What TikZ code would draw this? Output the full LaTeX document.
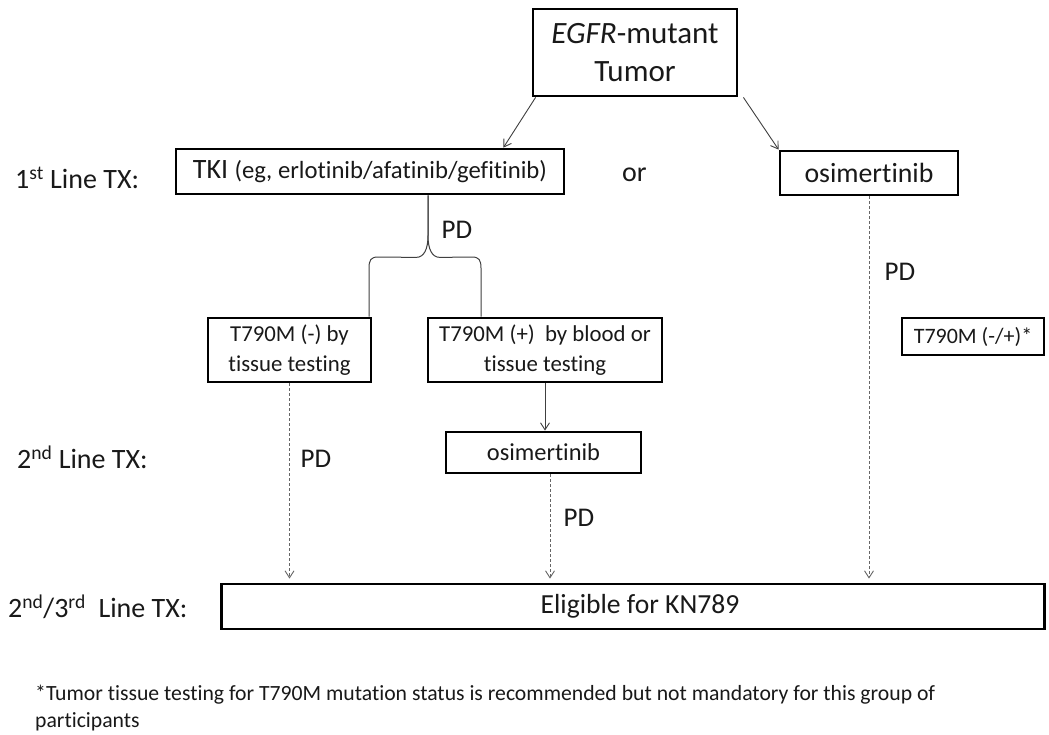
\documentclass[tikz,border=0pt]{standalone}
\usepackage{fontspec}
\setmainfont{Carlito}[RawFeature=-liga]
\usetikzlibrary{arrows.meta}
\newcommand{\fsz}[1]{\fontsize{#1}{#1}\selectfont}
\begin{document}
\begin{tikzpicture}[x=1pt,y=-1pt,
  boxnode/.style={draw=black,line width=2.8pt,inner sep=0pt,align=center,anchor=center,text=black!90},
  lbl/.style={inner sep=0pt,text=black!90},
  arr/.style={draw=black!75,line width=0.9pt,-{Straight Barb[length=7pt,width=9pt]}},
  darr/.style={draw=black!60,line width=0.9pt,dash pattern=on 3pt off 2pt,-{Straight Barb[length=7pt,width=9pt,line width=0.9pt]},shorten >=4pt},
  brace/.style={draw=black!75,line width=1pt}
]
\useasboundingbox (0,0) rectangle (1049,734);
\fill[white] (0,0) rectangle (1049,734);

% boxes
\node[boxnode,minimum width=204pt,minimum height=87pt,font=\fontsize{31}{38}\selectfont] (egfr) at (635,52.5)
  {\textit{EGFR}-mutant\\Tumor};
\node[boxnode,minimum width=388pt,minimum height=45pt] (tki) at (370,171.5)
  {\fsz{28}TKI \fsz{24.7}(eg, erlotinib/afatinib/gefitinib)};
\node[boxnode,minimum width=178pt,minimum height=44pt] (osimA) at (869,173)
  {\fsz{27.8}osimertinib};
\node[boxnode,minimum width=163pt,minimum height=64pt,font=\fontsize{22.8}{30}\selectfont] (tneg) at (289.5,350)
  {T790M (-) by\\tissue testing};
\node[boxnode,minimum width=234pt,minimum height=64pt,font=\fontsize{22.8}{30}\selectfont] (tpos) at (545,350)
  {T790M (+)\ \ by blood or\\tissue testing};
\node[boxnode,minimum width=195pt,minimum height=41pt] (osimB) at (543.5,452.5)
  {\fsz{24.4}osimertinib};
\node[boxnode,minimum width=142pt,minimum height=37pt] (tpm) at (973,336.5)
  {\fsz{22}T790M (-/+)*};
\node[boxnode,minimum width=823pt,minimum height=45pt] (elig) at (633,606.5) {};
\node[lbl,anchor=center] (eligtxt) at (640,606.5) {\fsz{27.6}Eligible for KN789};

% row labels
\node[lbl,anchor=west] (l1) at (15,178) {\fsz{28}1\textsuperscript{st} Line TX:};
\node[lbl,anchor=west] (orlbl) at (622,175) {\fsz{28}or};
\node[lbl,anchor=west] (l2) at (17,457) {\fsz{28}2\textsuperscript{nd} Line TX:};
\node[lbl,anchor=west] (l3) at (8,607) {\fsz{28}2\textsuperscript{nd}/3\textsuperscript{rd}\ \ Line TX:};

% PD labels
\node[lbl] (pd1) at (457,230) {\fsz{27}PD};
\node[lbl] (pd2) at (316,459) {\fsz{27}PD};
\node[lbl] (pd3) at (579,518) {\fsz{27}PD};
\node[lbl] (pd4) at (900,272) {\fsz{27}PD};

% footnote
\node[lbl,anchor=west,align=left,font=\fontsize{21.7}{27}\selectfont] (foot) at (35,708.5)
  {*Tumor tissue testing for T790M mutation status is recommended but not mandatory for this group of\\participants};

% arrows from tumor
\draw[arr] ([xshift=4pt]egfr.south west) -- ([xshift=-62pt]tki.north east);
\draw[arr] ([xshift=5pt]egfr.south east) -- (osimA.north west);

% brace
\coordinate (bt) at ([xshift=58pt]tki.south);
\draw[brace] (bt) -- ++(0,40) .. controls +(0,14) and +(8,0) .. ++(-12,22) -- (378,257)
  .. controls +(-7,0) and +(0,-8) .. (369,268) -- (tneg.north east -| 369,0);
\draw[brace] (bt) -- ++(0,40) .. controls +(0,14) and +(-8,0) .. ++(12,22) -- (472,257)
  .. controls +(7,0) and +(0,-8) .. (481,268) -- (tpos.north west -| 481,0);

% T790M(+) to osimertinib
\draw[arr] (tpos.south) -- (tpos.south |- osimB.north);

% dashed PD arrows
\draw[darr] (tneg.south) -- (tneg.south |- elig.north);
\draw[darr] ([xshift=6.5pt]osimB.south) -- ([xshift=6.5pt]osimB.south |- elig.north);
\draw[darr] (osimA.south) -- (osimA.south |- elig.north);
\end{tikzpicture}
\end{document}
